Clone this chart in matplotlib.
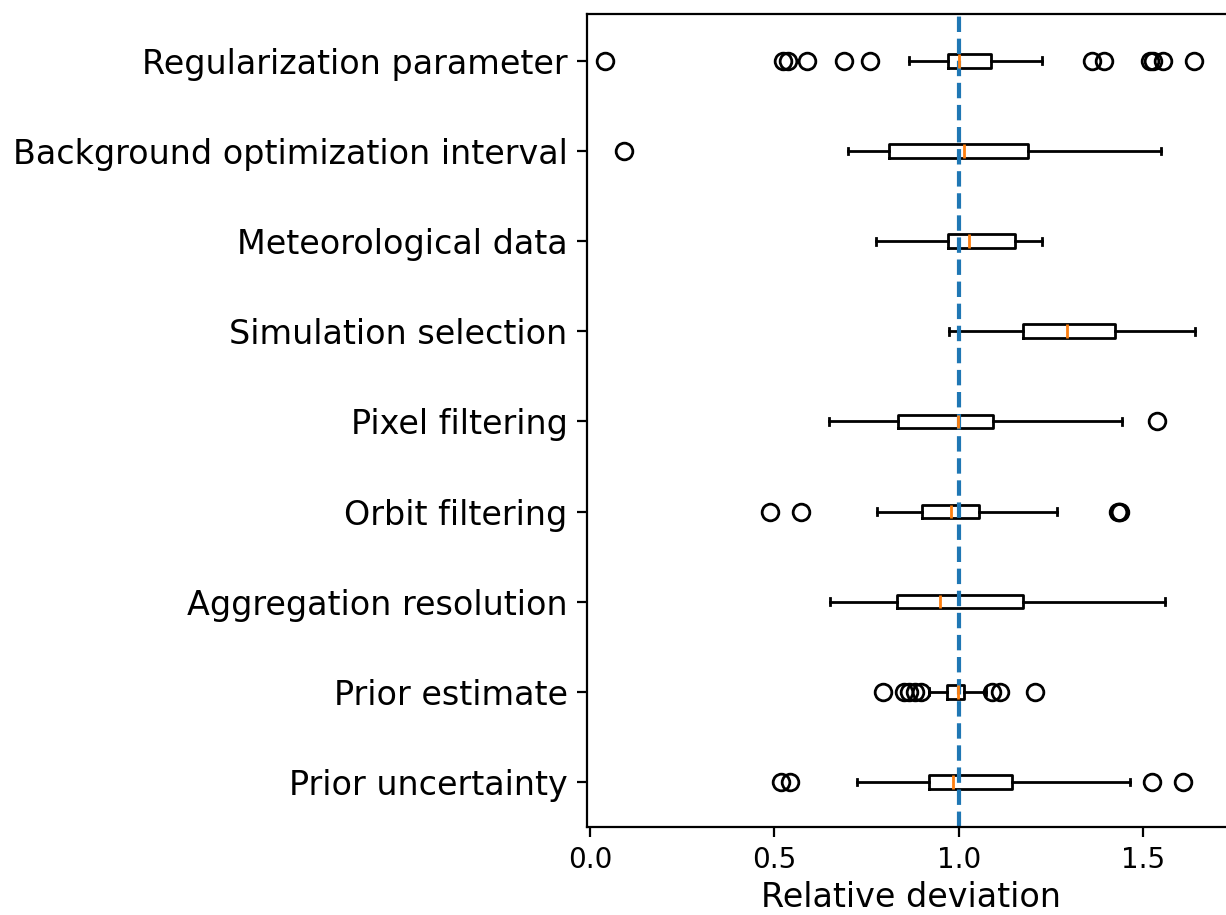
import matplotlib
matplotlib.use("Agg")
import matplotlib.pyplot as plt
from matplotlib.ticker import MultipleLocator

# categories bottom -> top
labels = ["Prior uncertainty", "Prior estimate", "Aggregation resolution",
          "Orbit filtering", "Pixel filtering", "Simulation selection",
          "Meteorological data", "Background optimization interval",
          "Regularization parameter"]

# box statistics
whislo = [0.724, 0.918, 0.652, 0.777, 0.648, 0.972, 0.774, 0.700, 0.866]
q1 = [0.918, 0.967, 0.832, 0.901, 0.836, 1.173, 0.970, 0.811, 0.970]
med = [0.985, 0.997, 0.950, 0.978, 0.997, 1.292, 1.028, 1.015, 0.999]
q3 = [1.144, 1.015, 1.175, 1.054, 1.093, 1.424, 1.153, 1.188, 1.086]
whishi = [1.464, 1.073, 1.558, 1.266, 1.442, 1.641, 1.225, 1.547, 1.225]
fliers = [
    [0.517, 0.543, 1.524, 1.608],
    [0.794, 0.850, 0.864, 0.882, 0.896, 1.089, 1.112, 1.207],
    [],
    [0.488, 0.573, 1.430, 1.435, 1.438],
    [1.538],
    [],
    [],
    [0.093],
    [0.042, 0.524, 0.537, 0.589, 0.688, 0.759,
     1.362, 1.394, 1.519, 1.527, 1.553, 1.636],
]

stats = []
for i in range(len(labels)):
    stats.append(dict(whislo=whislo[i], q1=q1[i], med=med[i], q3=q3[i],
                      whishi=whishi[i], fliers=fliers[i]))

DPI = 200
fig = plt.figure(figsize=(1226 / DPI, 915 / DPI), dpi=DPI)
ax = fig.add_axes([0.4788, 0.0962, 0.529, 0.8885])

positions = list(range(1, len(labels) + 1))
ax.bxp(stats, positions=positions, widths=0.15, orientation='horizontal')
ax.axvline(1.0, color='C0', linestyle='--', linewidth=1.5)

ax.set_yticks(positions)
ax.set_yticklabels(labels, fontsize=12)
ax.xaxis.set_major_locator(MultipleLocator(0.5))
ax.set_xlabel('Relative deviation', fontsize=12, labelpad=2.5)
ax.set_xlim(-0.008, 1.75)
ax.set_ylim(0.5, 9.52)

fig.savefig('out.png', dpi=DPI)
